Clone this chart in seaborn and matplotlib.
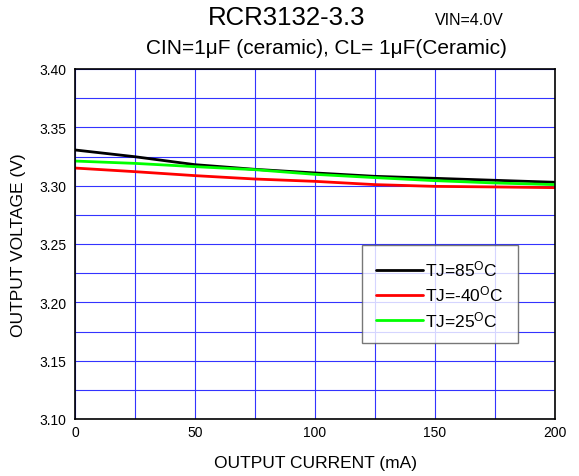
import matplotlib
matplotlib.use("Agg")
import matplotlib.pyplot as plt
import seaborn as sns
import pandas as pd
import numpy as np

current = [0, 25, 50, 75, 100, 125, 150, 175, 200]
v_85 = [3.3306, 3.3248, 3.3180, 3.3140, 3.3109, 3.3080, 3.3063, 3.3046, 3.3029]
v_m40 = [3.3151, 3.3120, 3.3086, 3.3057, 3.3037, 3.3009, 3.2994, 3.2989, 3.2983]
v_25 = [3.3211, 3.3191, 3.3163, 3.3137, 3.3097, 3.3069, 3.3043, 3.3023, 3.3009]
labels = ["TJ=85$^{\\mathrm{O}}$C", "TJ=-40$^{\\mathrm{O}}$C", "TJ=25$^{\\mathrm{O}}$C"]
colors = ["#000000", "#ff0000", "#00ff00"]

xticks = [0, 50, 100, 150, 200]
yticks = [3.10, 3.15, 3.20, 3.25, 3.30, 3.35, 3.40]

df = pd.concat([
    pd.DataFrame({"I": current, "V": v, "T": lab})
    for v, lab in zip([v_85, v_m40, v_25], labels)
])

sns.set_style("white")
plt.rcParams["font.family"] = ["Liberation Sans", "DejaVu Sans"]
plt.rcParams["mathtext.fontset"] = "custom"
plt.rcParams["mathtext.rm"] = "Liberation Sans"
plt.rcParams["mathtext.it"] = "Liberation Sans:italic"
for k in ["text.color", "axes.labelcolor", "xtick.color", "ytick.color"]:
    plt.rcParams[k] = "#000000"

fig = plt.figure(figsize=(5.79, 4.77), dpi=100)
ax = fig.add_axes([75/579, 1-420/477, 480/579, 350/477])

sns.lineplot(data=df, x="I", y="V", hue="T", palette=dict(zip(labels, colors)),
             linewidth=2, ax=ax, legend=True)

ax.set_xlim(0, 200)
ax.set_ylim(3.10, 3.40)
ax.set_xticks(xticks)
ax.set_xticklabels([str(t) for t in xticks], fontsize=10)
ax.set_yticks(yticks)
ax.set_yticklabels([f"{t:.2f}" for t in yticks], fontsize=10)
ax.set_xticks(np.arange(0, 201, 25), minor=True)
ax.set_yticks(np.arange(3.10, 3.401, 0.025), minor=True)
ax.grid(True, which="both", color="#3333ff", linewidth=0.8)
ax.tick_params(which="both", length=0)
ax.tick_params(axis="x", pad=4)
ax.tick_params(axis="y", pad=6)
for s in ax.spines.values():
    s.set_color("#000000")
    s.set_linewidth(1.2)
ax.set_axisbelow(True)

ax.set_xlabel("OUTPUT CURRENT (mA)", fontsize=12.5, labelpad=12)
ax.set_ylabel("OUTPUT VOLTAGE (V)", fontsize=12.5, labelpad=10)

leg = ax.legend(loc="upper left", bbox_to_anchor=(287/480, 174/350), frameon=True,
                fancybox=False, fontsize=12.5, handlelength=2.7, borderpad=0.8,
                labelspacing=0.3, handletextpad=0.15, borderaxespad=0)
leg.get_frame().set_edgecolor("#555555")
leg.get_frame().set_linewidth(1.0)
for t in leg.get_texts():
    t.set_color("#000000")
for h in leg.get_lines():
    h.set_linewidth(2)

fig.text(287/579, 0.9476, "RCR3132-3.3", ha="center", va="baseline", fontsize=18.5)
fig.text(435/579, 0.9476, "VIN=4.0V", ha="left", va="baseline", fontsize=11.5)
fig.text(326/579, 0.8868, "CIN=1μF (ceramic), CL= 1μF(Ceramic)", ha="center", va="baseline", fontsize=15)

fig.savefig("out.png", dpi=100)
